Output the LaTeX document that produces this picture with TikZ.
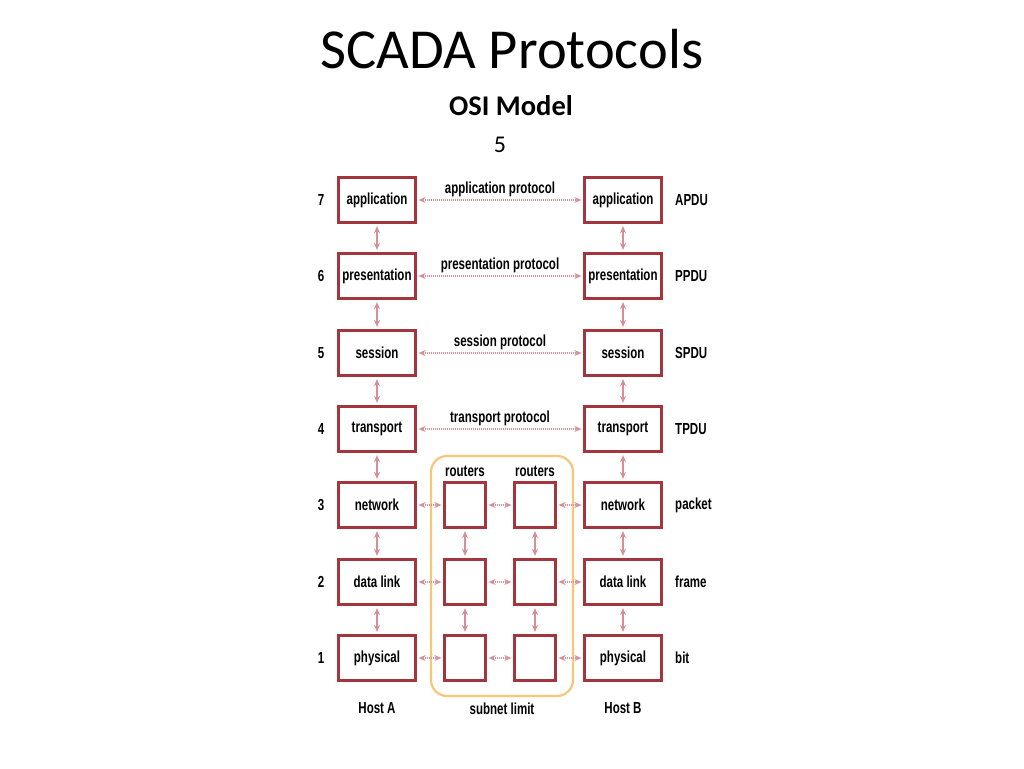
\documentclass[tikz,border=0pt]{standalone}
\usepackage{fontspec}
\setmainfont{Carlito}
\newfontfamily\dfont[FakeStretch=0.72]{Liberation Sans}
\usetikzlibrary{arrows.meta}
\definecolor{boxred}{HTML}{A3363D}
\definecolor{arrpink}{HTML}{D68F96}
\definecolor{subnet}{HTML}{F5C77A}
\tikzset{
  dtext/.style={font=\dfont\bfseries\fontsize{16}{18}\selectfont},
  layer/.style={draw=boxred, line width=3.2pt, fill=white, minimum width=77pt, minimum height=45pt, inner sep=0pt, dtext},
  router/.style={draw=boxred, line width=3.2pt, fill=white, minimum width=41pt, minimum height=45pt, inner sep=0pt},
  lbl/.style={dtext, inner sep=0pt},
  proto/.style={draw=arrpink, line width=1.3pt, dash pattern=on 1pt off 1pt, {Stealth[length=7pt,width=6pt,open]}-{Stealth[length=7pt,width=6pt,open]}, shorten <=1.5pt, shorten >=1.5pt},
  vert/.style={draw=arrpink, line width=1.3pt, {Stealth[length=7pt,width=6pt,open]}-{Stealth[length=7pt,width=6pt,open]}, shorten <=2pt, shorten >=2pt},
}
\begin{document}
\begin{tikzpicture}[x=1pt,y=-1pt]
\useasboundingbox (0,0) rectangle (1024,768);
\fill[white] (0,0) rectangle (1024,768);
% titles
\node[font=\fontsize{56.5}{64}\selectfont, inner sep=0pt, anchor=base] (title) at (512,68) {SCADA Protocols};
\node[font=\bfseries\fontsize{28.5}{33}\selectfont, inner sep=0pt, anchor=base] (sub) at (511,115) {OSI Model};
\node[font=\fontsize{24}{28}\selectfont, inner sep=0pt, anchor=base] (num) at (500,152) {5};
% subnet
\draw[subnet, line width=2.2pt, rounded corners=16pt] (431,456) rectangle (573,696);
% layers
\foreach \n/\t/\p/\y in {7/application/APDU/200, 6/presentation/PPDU/276, 5/session/SPDU/353, 4/transport/TPDU/429, 3/network/packet/505, 2/data link/frame/582, 1/physical/bit/658}{
  \node[layer] (A\n) at (377,\y) {\t};
  \node[layer] (B\n) at (623,\y) {\t};
  \node[lbl] (N\n) at (321,\y) {\n};
  \node[lbl, anchor=west] (P\n) at (675,\y) {\p};
}
\foreach \n/\y in {3/505, 2/582, 1/658}{
  \node[router] (R\n) at (465,\y) {};
  \node[router] (S\n) at (535,\y) {};
}
% protocol arrows
\foreach \n/\t in {7/application protocol, 6/presentation protocol, 5/session protocol, 4/transport protocol}{
  \draw[proto] (A\n.east) -- node[lbl, above=3pt] (L\n) {\t} (B\n.west);
}
% vertical arrows
\foreach \a/\b in {7/6, 6/5, 5/4, 4/3, 3/2, 2/1}{
  \draw[vert] (A\a.south) -- (A\b.north);
  \draw[vert] (B\a.south) -- (B\b.north);
}
\foreach \a/\b in {3/2, 2/1}{
  \draw[vert] (R\a.south) -- (R\b.north);
  \draw[vert] (S\a.south) -- (S\b.north);
}
% subnet horizontal arrows
\foreach \n in {3,2,1}{
  \draw[proto] (A\n.east) -- (R\n.west);
  \draw[proto] (R\n.east) -- (S\n.west);
  \draw[proto] (S\n.east) -- (B\n.west);
}
% labels
\node[lbl] (rt1) at (465,471) {routers};
\node[lbl] (rt2) at (535,471) {routers};
\node[lbl] (ha) at (377,708) {Host A};
\node[lbl] (hb) at (623,708) {Host B};
\node[lbl] (sl) at (502,709) {subnet limit};
\end{tikzpicture}
\end{document}
